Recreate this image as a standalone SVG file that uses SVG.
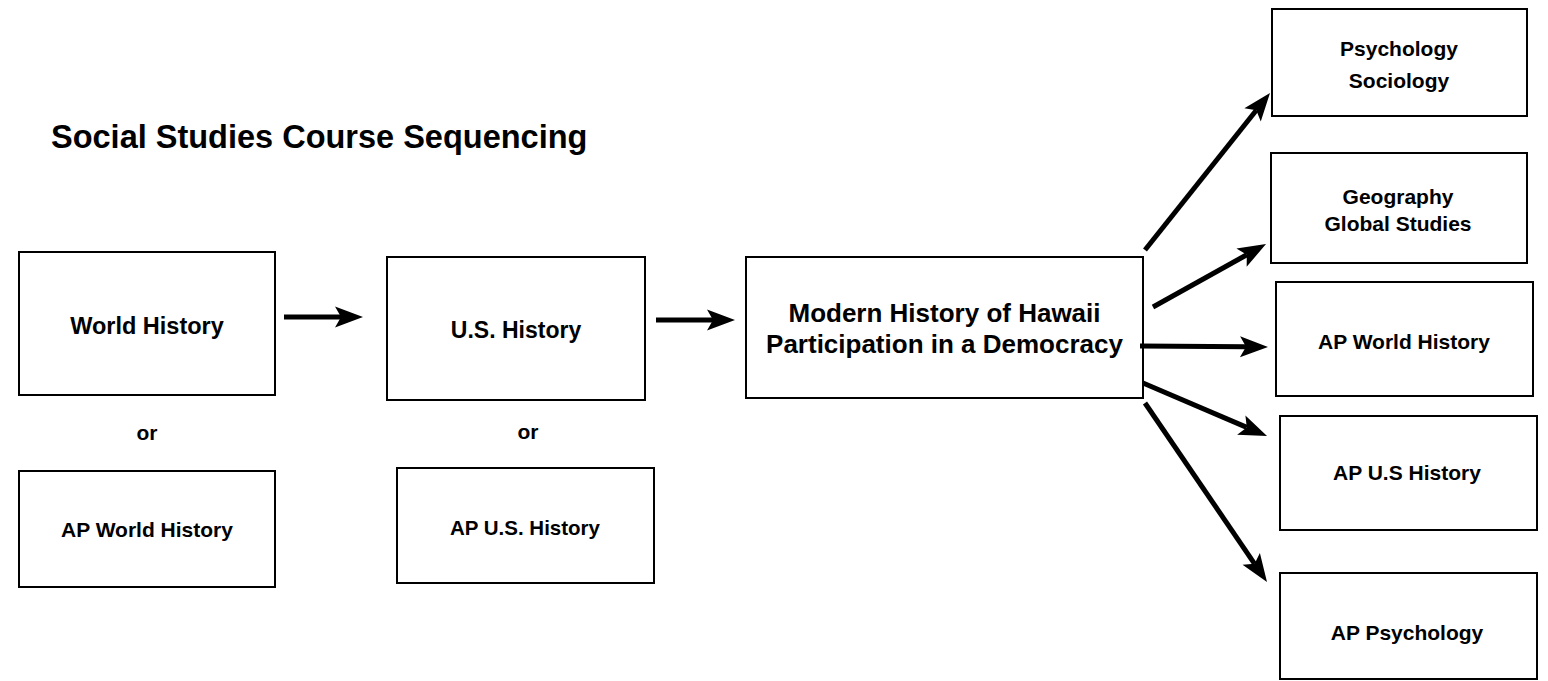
<svg xmlns="http://www.w3.org/2000/svg" width="1548" height="681" viewBox="0 0 1548 681">
<style>
.box{fill:#fff;stroke:#000;stroke-width:2}
.t{font-family:"Liberation Sans",Arial,sans-serif;font-weight:bold;fill:#000;text-anchor:middle}
.conn{stroke:#000;stroke-width:5;fill:none;marker-end:url(#ah)}
</style>
<defs>
<marker id="ah" markerUnits="userSpaceOnUse" markerWidth="32" markerHeight="26" viewBox="-8 -13 32 26" refX="0" refY="0" orient="auto">
<path d="M-6,-10.5 L22,0 L-6,10.5 L0,0 Z" fill="#000"/>
</marker>
</defs>
<rect width="1548" height="681" fill="#fff"/>
<text class="t" x="51" y="148" font-size="32.5" style="text-anchor:start">Social Studies Course Sequencing</text>

<g id="world-history"><rect class="box" x="19" y="252" width="256" height="143"/><text class="t" x="147" y="334" font-size="23.5">World History</text></g>
<g id="or-1"><text class="t" x="147" y="440" font-size="21">or</text></g>
<g id="ap-world-history"><rect class="box" x="19" y="471" width="256" height="116"/><text class="t" x="147" y="537" font-size="21">AP World History</text></g>

<g id="us-history"><rect class="box" x="387" y="257" width="258" height="143"/><text class="t" x="516" y="338" font-size="23">U.S. History</text></g>
<g id="or-2"><text class="t" x="528" y="439" font-size="21">or</text></g>
<g id="ap-us-history"><rect class="box" x="397" y="468" width="257" height="115"/><text class="t" x="525" y="535" font-size="20.5">AP U.S. History</text></g>

<g id="modern-history"><rect class="box" x="746" y="257" width="397" height="141"/><text class="t" x="944.5" y="322" font-size="26">Modern History of Hawaii</text><text class="t" x="944.5" y="353" font-size="26">Participation in a Democracy</text></g>

<g id="psychology-sociology"><rect class="box" x="1272" y="9" width="255" height="107"/><text class="t" x="1399" y="56" font-size="21">Psychology</text><text class="t" x="1399" y="88" font-size="21">Sociology</text></g>
<g id="geography-global"><rect class="box" x="1271" y="153" width="256" height="110"/><text class="t" x="1398" y="204" font-size="21">Geography</text><text class="t" x="1398" y="231" font-size="21">Global Studies</text></g>
<g id="ap-world-history-2"><rect class="box" x="1276" y="282" width="257" height="114"/><text class="t" x="1404" y="349" font-size="21">AP World History</text></g>
<g id="ap-us-history-2"><rect class="box" x="1280" y="416" width="257" height="114"/><text class="t" x="1407" y="480" font-size="21">AP U.S History</text></g>
<g id="ap-psychology"><rect class="box" x="1280" y="573" width="257" height="106"/><text class="t" x="1407" y="640" font-size="21">AP Psychology</text></g>

<g id="connectors">
<line class="conn" x1="284" y1="317" x2="341" y2="317"/>
<line class="conn" x1="656" y1="320" x2="713" y2="320"/>
<line class="conn" x1="1145" y1="250" x2="1256.3" y2="110.2"/>
<line class="conn" x1="1153" y1="307" x2="1246.8" y2="254.7"/>
<line class="conn" x1="1140" y1="346" x2="1246" y2="346.8"/>
<line class="conn" x1="1143" y1="383" x2="1246.8" y2="427.4"/>
<line class="conn" x1="1145" y1="403" x2="1254.6" y2="563.8"/>
</g>
</svg>
